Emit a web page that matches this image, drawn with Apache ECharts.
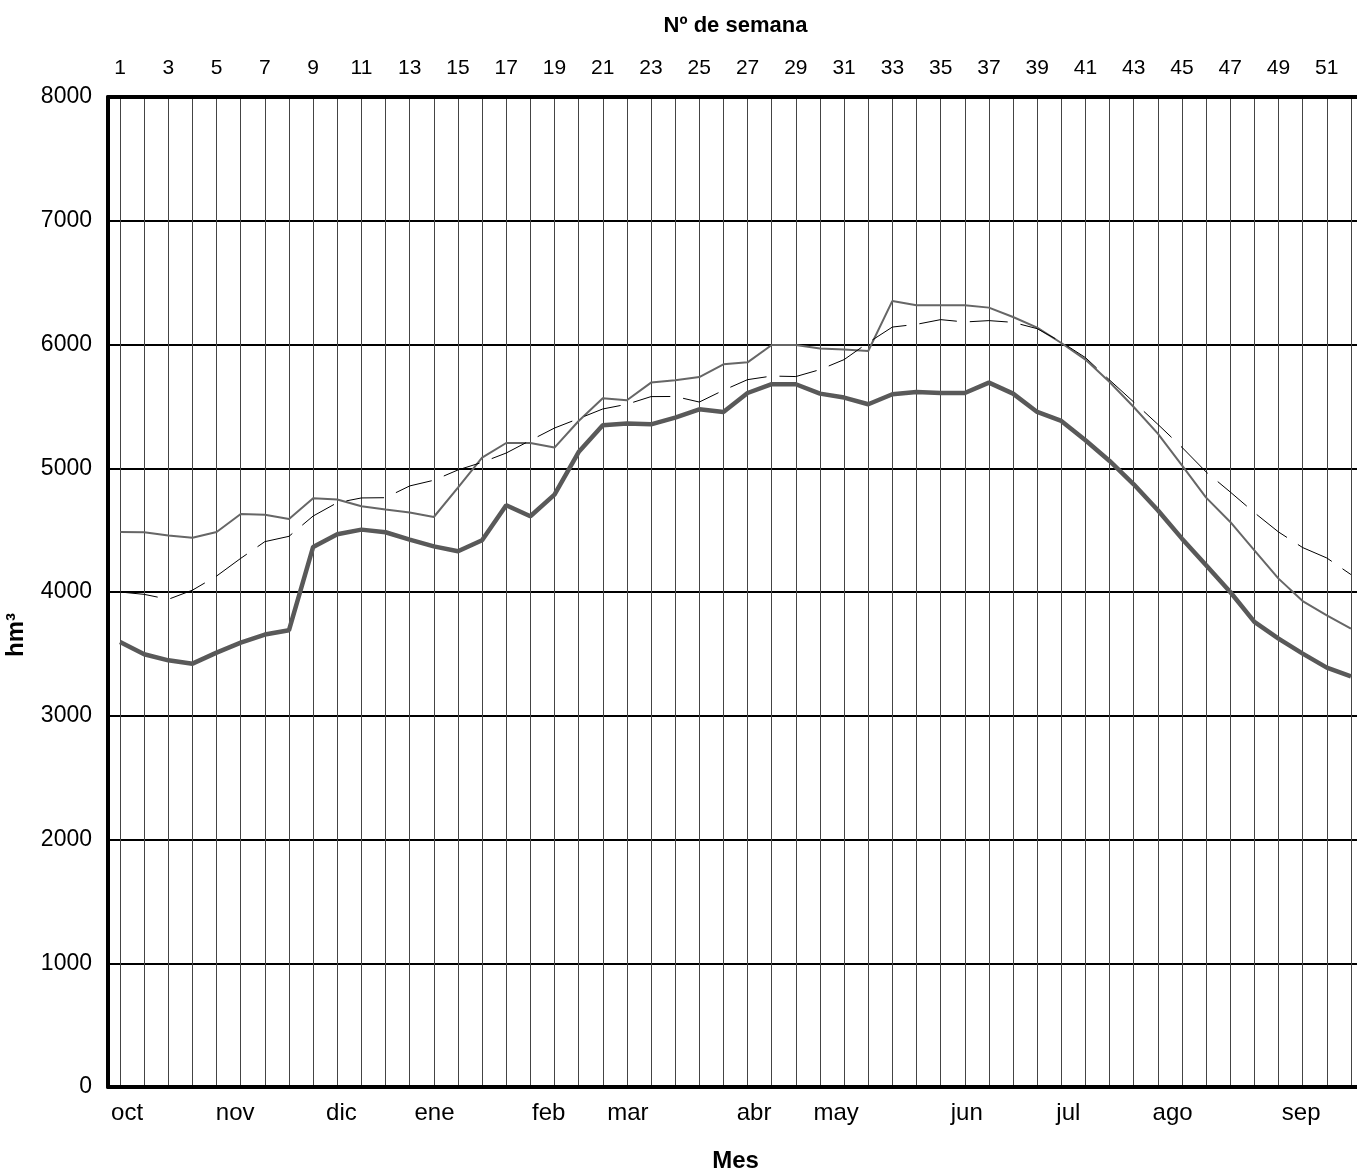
<!DOCTYPE html>
<html><head><meta charset="utf-8">
<script src="https://cdn.jsdelivr.net/npm/echarts@6/dist/echarts.min.js"></script>
<style>html,body{margin:0;padding:0;background:#fff}#c{width:1357px;height:1176px}</style>
</head><body><div id="c"></div>
<script>
const weeks = [1,2,3,4,5,6,7,8,9,10,11,12,13,14,15,16,17,18,19,20,21,22,23,24,25,26,27,28,29,30,31,32,33,34,35,36,37,38,39,40,41,42,43,44,45,46,47,48,49,50,51,52];
const weekLabels = [1,3,5,7,9,11,13,15,17,19,21,23,25,27,29,31,33,35,37,39,41,43,45,47,49,51];
const monthNames = ['oct','nov','dic','ene','feb','mar','abr','may','jun','jul','ago','sep'];
const monthPos = [1.29,5.77,10.17,14.03,18.76,22.04,27.27,30.67,36.08,40.29,44.61,49.94];

const seriesThick = [3596,3497,3448,3421,3510,3591,3656,3691,4364,4466,4504,4483,4423,4369,4329,4418,4701,4612,4787,5131,5347,5361,5355,5409,5476,5455,5608,5679,5679,5603,5571,5517,5598,5617,5608,5608,5692,5603,5455,5382,5226,5059,4870,4660,4431,4216,4000,3758,3623,3502,3389,3319];
const seriesThin = [4485,4483,4456,4439,4485,4630,4625,4590,4757,4747,4693,4666,4642,4606,4844,5086,5204,5204,5167,5382,5565,5549,5692,5711,5737,5840,5856,5996,5996,5967,5959,5947,6352,6317,6317,6317,6298,6222,6136,6012,5878,5697,5495,5280,5024,4763,4566,4337,4108,3927,3812,3704];
const seriesDashed = [4000,3981,3941,4015,4129,4272,4407,4450,4614,4722,4760,4762,4857,4903,4986,5048,5123,5225,5325,5401,5479,5517,5579,5580,5535,5630,5716,5745,5741,5797,5878,6015,6141,6163,6201,6182,6193,6179,6128,6020,5894,5713,5535,5355,5169,4970,4808,4641,4485,4359,4275,4141];

const pairs = arr => weeks.map((w, i) => [w, arr[i]]);
const FONT = 'Liberation Sans, Arial, sans-serif';

const chart = echarts.init(document.getElementById('c'), null, {renderer: 'canvas'});
chart.setOption({
  animation: false,
  backgroundColor: '#fff',
  grid: {left: 108, right: -6, top: 97, bottom: 89, containLabel: false, outerBoundsMode: 'none'},
  xAxis: [
    {
      type: 'value', position: 'top', min: 0.5, max: 52.5,
      name: 'Nº de semana', nameLocation: 'middle', nameGap: 60,
      nameTextStyle: {fontFamily: FONT, fontWeight: 'bold', fontSize: 22, color: '#000'},
      axisLine: {show: true, onZero: false, lineStyle: {color: '#000', width: 4}},
      axisTick: {show: false, customValues: weeks},
      axisLabel: {customValues: weekLabels, margin: 18, fontFamily: FONT, fontSize: 21, color: '#000',
        formatter: v => String(Math.round(v))},
      splitLine: {show: true, lineStyle: {color: '#444', width: 1}}
    },
    {
      type: 'value', position: 'bottom', min: 0.5, max: 52.5,
      name: 'Mes', nameLocation: 'middle', nameGap: 62,
      nameTextStyle: {fontFamily: FONT, fontWeight: 'bold', fontSize: 24, color: '#000'},
      axisLine: {show: true, onZero: false, lineStyle: {color: '#000', width: 4}},
      axisTick: {show: false},
      axisLabel: {customValues: monthPos, margin: 14, fontFamily: FONT, fontSize: 24, color: '#000',
        formatter: v => {
          let best = 0, d = 1e9;
          monthPos.forEach((p, i) => { if (Math.abs(p - v) < d) { d = Math.abs(p - v); best = i; } });
          return monthNames[best];
        }},
      splitLine: {show: false}
    }
  ],
  yAxis: {
    type: 'value', min: 0, max: 8000, interval: 1000,
    name: 'hm³', nameLocation: 'middle', nameGap: 80, nameRotate: 90,
    nameTextStyle: {fontFamily: FONT, fontWeight: 'bold', fontSize: 24, color: '#000', padding: [0, 86, 0, 0]},
    axisLine: {show: true, onZero: false, lineStyle: {color: '#000', width: 4}},
    axisTick: {show: false},
    axisLabel: {margin: 16, fontFamily: FONT, fontSize: 23, color: '#000', formatter: v => String(v)},
    splitLine: {show: true, lineStyle: {color: '#000', width: 2}}
  },
  series: [
    {type: 'line', xAxisIndex: 0, data: pairs(seriesThin), symbol: 'none', z: 3,
      lineStyle: {color: '#666', width: 2}},
    {type: 'line', xAxisIndex: 0, data: pairs(seriesDashed), symbol: 'none', z: 4,
      lineStyle: {color: '#000', width: 1, type: [38, 13]}},
    {type: 'line', xAxisIndex: 0, data: pairs(seriesThick), symbol: 'none', z: 5,
      lineStyle: {color: '#595959', width: 4.5}}
  ]
});
</script>
</body></html>
